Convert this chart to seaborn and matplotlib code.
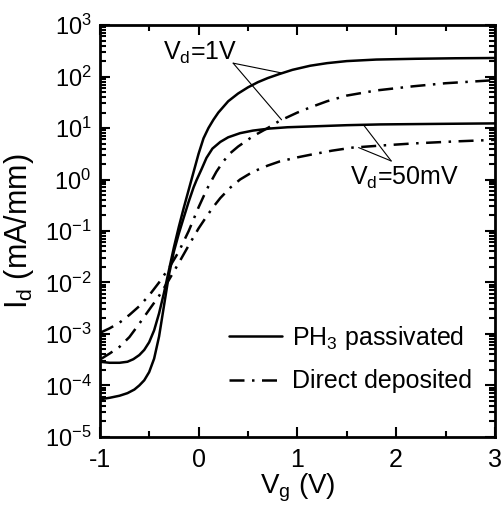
import matplotlib
matplotlib.use("Agg")
import matplotlib.pyplot as plt
from matplotlib.ticker import LogLocator, MultipleLocator, NullFormatter
import numpy as np
import pandas as pd
import seaborn as sns

# ---- Data (log10 of Id in mA/mm) ----
vg_ph3_1v = [-1.0, -0.9, -0.8, -0.72, -0.66, -0.6, -0.55, -0.5, -0.45, -0.4,
             -0.35, -0.3, -0.25, -0.2, -0.15, -0.1, -0.05, 0.0, 0.05, 0.1,
             0.15, 0.2, 0.3, 0.4, 0.5, 0.6, 0.7, 0.82, 0.95, 1.13,
             1.3, 1.5, 1.8, 2.2, 2.6, 3.0]
log_ph3_1v = [-3.54, -3.56, -3.56, -3.54, -3.49, -3.41, -3.31, -3.16, -2.93, -2.6,
              -2.2, -1.76, -1.32, -0.92, -0.55, -0.2, 0.15, 0.5, 0.8, 1.0,
              1.16, 1.3, 1.52, 1.67, 1.79, 1.89, 1.97, 2.05, 2.13, 2.21,
              2.26, 2.30, 2.33, 2.345, 2.355, 2.36]

vg_ph3_50mv = [-1.0, -0.9, -0.8, -0.72, -0.65, -0.6, -0.55, -0.5, -0.45, -0.4,
               -0.35, -0.3, -0.25, -0.2, -0.16, -0.1, -0.05, -0.02, 0.03, 0.08,
               0.14, 0.22, 0.3, 0.42, 0.55, 0.72, 0.9, 1.13, 1.5, 1.84,
               2.4, 3.0]
log_ph3_50mv = [-4.27, -4.24, -4.2, -4.15, -4.08, -4.0, -3.9, -3.74, -3.48, -3.05,
                -2.45, -1.85, -1.4, -1.05, -0.8, -0.43, -0.15, -0.01, 0.2, 0.42,
                0.6, 0.73, 0.82, 0.90, 0.95, 0.99, 1.015, 1.03, 1.055, 1.07,
                1.08, 1.09]

vg_dd_1v = [-1.0, -0.9, -0.8, -0.7, -0.6, -0.5, -0.4, -0.3, -0.2, -0.1,
            -0.05, 0.0, 0.05, 0.1, 0.18, 0.25, 0.32, 0.4, 0.55, 0.7,
            0.82, 1.0, 1.13, 1.3, 1.5, 1.8, 2.17, 2.5, 3.0]
log_dd_1v = [-2.98, -2.89, -2.78, -2.63, -2.46, -2.25, -2.0, -1.72, -1.4, -1.0,
             -0.77, -0.54, -0.33, -0.13, 0.15, 0.35, 0.51, 0.64, 0.84, 1.0,
             1.14, 1.3, 1.40, 1.52, 1.63, 1.73, 1.81, 1.87, 1.93]

vg_dd_50mv = [-1.0, -0.9, -0.8, -0.7, -0.6, -0.5, -0.4, -0.3, -0.2, -0.1,
              0.0, 0.08, 0.15, 0.22, 0.32, 0.42, 0.55, 0.7, 0.82, 1.0,
              1.13, 1.35, 1.56, 1.85, 2.17, 2.6, 3.0]
log_dd_50mv = [-3.5, -3.38, -3.25, -3.06, -2.8, -2.53, -2.26, -1.95, -1.62, -1.28,
               -0.95, -0.72, -0.53, -0.36, -0.16, 0.0, 0.15, 0.27, 0.35, 0.43,
               0.48, 0.56, 0.62, 0.66, 0.70, 0.74, 0.77]

LEGEND_LABELS = [r"PH$_\mathregular{3}$ passivated", "Direct deposited"]
DASHDOT = (0, (6, 3, 1, 3))

sns.set_style("ticks")
plt.rcParams["font.family"] = ["Liberation Sans", "DejaVu Sans"]
plt.rcParams["mathtext.default"] = "regular"
plt.rcParams["axes.unicode_minus"] = False
for key in ["text.color", "axes.labelcolor", "xtick.color", "ytick.color"]:
    plt.rcParams[key] = "black"

fig = plt.figure(figsize=(5.04, 5.22), dpi=100)
ax = fig.add_axes([0.198, 0.163, 0.784, 0.789])

curves = [
    (vg_ph3_1v, log_ph3_1v, "-", LEGEND_LABELS[0]),
    (vg_ph3_50mv, log_ph3_50mv, "-", None),
    (vg_dd_1v, log_dd_1v, DASHDOT, LEGEND_LABELS[1]),
    (vg_dd_50mv, log_dd_50mv, DASHDOT, None),
]
for vg, logi, ls, lab in curves:
    df = pd.DataFrame({"Vg": vg, "Id": 10.0 ** np.array(logi)})
    sns.lineplot(data=df, x="Vg", y="Id", ax=ax, color="black", lw=1.8,
                 linestyle=ls, label=lab, legend=False)

ax.set_yscale("log")
ax.set_xlim(-1, 3)
ax.set_ylim(1e-5, 1e3)
ax.xaxis.set_major_locator(MultipleLocator(1))
ax.xaxis.set_minor_locator(MultipleLocator(0.5))
ax.yaxis.set_major_locator(LogLocator(base=10, numticks=20))
ax.yaxis.set_minor_locator(LogLocator(base=10, subs=np.arange(2, 10), numticks=20))
ax.yaxis.set_minor_formatter(NullFormatter())

ax.tick_params(which="both", direction="in", top=True, right=True, width=1.5)
ax.tick_params(which="major", length=7, labelsize=17, pad=6)
ax.tick_params(which="minor", length=4)
ax.tick_params(axis="x", which="major", pad=8, labelsize=18)
for s in ax.spines.values():
    s.set_linewidth(2)
    s.set_color("black")

ax.set_xlabel(r"V$_\mathregular{g}$ (V)", fontsize=20, labelpad=0)
ax.set_ylabel(r"I$_\mathregular{d}$ (mA/mm)", fontsize=22, labelpad=6)

# annotations
ax.text(-0.36, 10 ** 2.45, r"V$_\mathregular{d}$=1V", fontsize=18, va="center", ha="left")
for x_end, y_end in [(0.84, 10 ** 2.07), (0.84, 10 ** 1.16)]:
    ax.annotate("", xy=(x_end, y_end), xytext=(0.35, 10 ** 2.26),
                arrowprops=dict(arrowstyle="-", lw=0.8, color="black",
                                shrinkA=0, shrinkB=0))
ax.text(1.53, 10 ** 0.03, r"V$_\mathregular{d}$=50mV", fontsize=18, va="center", ha="left")
for x_end, y_end in [(1.67, 10 ** 1.06), (1.62, 10 ** 0.62)]:
    ax.annotate("", xy=(x_end, y_end), xytext=(1.95, 10 ** 0.36),
                arrowprops=dict(arrowstyle="-", lw=0.8, color="black",
                                shrinkA=0, shrinkB=0))

ax.legend(loc="center", bbox_to_anchor=(0.635, 0.19), frameon=False,
          fontsize=18, handlelength=2.1, handletextpad=0.4, labelspacing=0.7)

fig.savefig("out.png", dpi=100)
